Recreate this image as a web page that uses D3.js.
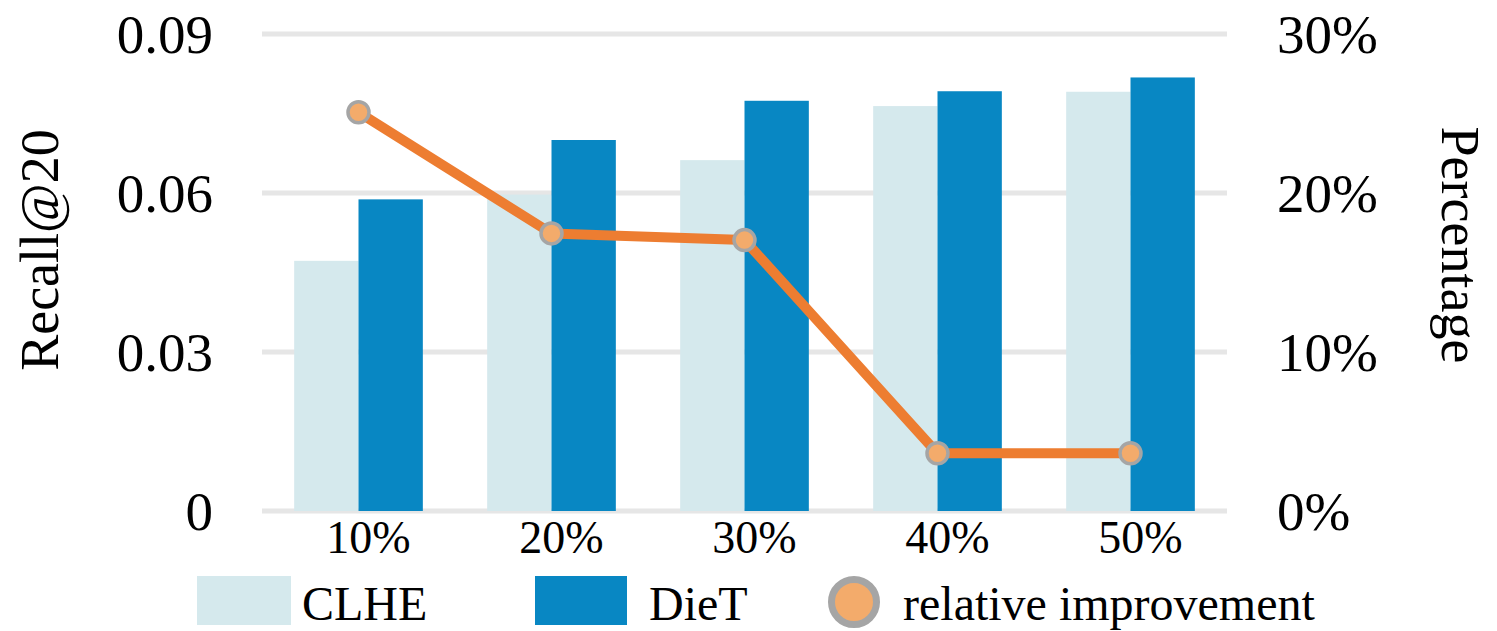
<!DOCTYPE html>
<html>
<head>
<meta charset="utf-8">
<script src="https://cdn.jsdelivr.net/npm/d3@7"></script>
<style>
  body { margin: 0; background: #fff; }
</style>
</head>
<body>
<div id="chart"></div>
<script>
// data
const categories = ['10%', '20%', '30%', '40%', '50%'];
const clhe = [0.0472, 0.0597, 0.0662, 0.0764, 0.0791];
const diet = [0.0588, 0.0700, 0.0774, 0.0792, 0.0818];
const improvement = [0.2508, 0.1746, 0.1704, 0.0363, 0.0363];
const leftTicks = [0, 0.03, 0.06, 0.09];
const rightTicks = [0, 0.1, 0.2, 0.3];

const width = 1497, height = 631;
const plotLeft = 262, plotRight = 1227, plotTop = 34, plotBottom = 511;
const serif = "'Times New Roman', 'Liberation Serif', Tinos, 'DejaVu Serif', serif";

const svg = d3.select('#chart')
  .append('svg')
  .attr('width', width)
  .attr('height', height)
  .attr('font-family', serif)
  .style('font-family', serif);

const x = d3.scaleBand()
  .domain(categories)
  .range([plotLeft, plotRight])
  .paddingInner(1 / 3)
  .paddingOuter(1 / 6);

const y = d3.scaleLinear().domain([0, 0.09]).range([plotBottom, plotTop]);
const y2 = d3.scaleLinear().domain([0, 0.3]).range([plotBottom, plotTop]);

// gridlines
svg.append('g')
  .selectAll('line')
  .data(leftTicks)
  .enter()
  .append('line')
  .attr('x1', plotLeft)
  .attr('x2', plotRight)
  .attr('y1', (d) => y(d))
  .attr('y2', (d) => y(d))
  .attr('stroke', '#e6e6e6')
  .attr('stroke-width', 5);

const half = x.bandwidth() / 2;

// CLHE bars
svg.selectAll('.clhe-bar')
  .data(clhe)
  .enter()
  .append('rect')
  .attr('class', 'clhe-bar')
  .attr('x', (d, i) => x(categories[i]))
  .attr('y', (d) => y(d))
  .attr('width', half)
  .attr('height', (d) => plotBottom - y(d))
  .attr('fill', '#d5e9ed');

// DieT bars
svg.selectAll('.diet-bar')
  .data(diet)
  .enter()
  .append('rect')
  .attr('class', 'diet-bar')
  .attr('x', (d, i) => x(categories[i]) + half)
  .attr('y', (d) => y(d))
  .attr('width', half)
  .attr('height', (d) => plotBottom - y(d))
  .attr('fill', '#0887c3');

// relative improvement line
const cx = (i) => x(categories[i]) + half;
const line = d3.line()
  .x((d, i) => cx(i))
  .y((d) => y2(d));

svg.append('path')
  .datum(improvement)
  .attr('d', line)
  .attr('fill', 'none')
  .attr('stroke', '#ed7d31')
  .attr('stroke-width', 10)
  .attr('stroke-linejoin', 'round');

svg.selectAll('.marker')
  .data(improvement)
  .enter()
  .append('circle')
  .attr('class', 'marker')
  .attr('cx', (d, i) => cx(i))
  .attr('cy', (d) => y2(d))
  .attr('r', 10.5)
  .attr('fill', '#f3ab6b')
  .attr('stroke', '#a5a5a5')
  .attr('stroke-width', 3.5);

// left axis labels
svg.append('g')
  .selectAll('text')
  .data(leftTicks)
  .enter()
  .append('text')
  .attr('x', 213)
  .attr('y', (d) => y(d))
  .attr('dy', '0.35em')
  .attr('text-anchor', 'end')
  .style('font-size', '55px')
  .text((d) => (d === 0 ? '0' : d3.format('.2f')(d)));

// right axis labels
svg.append('g')
  .selectAll('text')
  .data(rightTicks)
  .enter()
  .append('text')
  .attr('x', 1277)
  .attr('y', (d) => y2(d))
  .attr('dy', '0.35em')
  .attr('text-anchor', 'start')
  .style('font-size', '55px')
  .text((d) => d3.format('.0%')(d));

// x labels
svg.append('g')
  .selectAll('text')
  .data(categories)
  .enter()
  .append('text')
  .attr('x', (d) => x(d) + half + 10)
  .attr('y', 553)
  .attr('text-anchor', 'middle')
  .style('font-size', '46px')
  .text((d) => d);

// axis titles
svg.append('text')
  .attr('transform', 'translate(58,250) rotate(-90)')
  .attr('text-anchor', 'middle')
  .style('font-size', '54px')
  .text('Recall@20');

svg.append('text')
  .attr('transform', 'translate(1442,245) rotate(90)')
  .attr('text-anchor', 'middle')
  .style('font-size', '54px')
  .text('Percentage');

// legend
const legend = svg.append('g');
legend.append('rect')
  .attr('x', 197).attr('y', 576).attr('width', 94).attr('height', 49)
  .attr('fill', '#d5e9ed');
legend.append('text')
  .attr('x', 302).attr('y', 620)
  .style('font-size', '48px')
  .text('CLHE');
legend.append('rect')
  .attr('x', 535).attr('y', 576).attr('width', 92).attr('height', 49)
  .attr('fill', '#0887c3');
legend.append('text')
  .attr('x', 649).attr('y', 620)
  .style('font-size', '48px')
  .text('DieT');
legend.append('circle')
  .attr('cx', 854).attr('cy', 602).attr('r', 22.5)
  .attr('fill', '#f3ab6b')
  .attr('stroke', '#a5a5a5')
  .attr('stroke-width', 7);
legend.append('text')
  .attr('x', 903).attr('y', 620)
  .style('font-size', '48px')
  .text('relative improvement');
</script>
</body>
</html>
